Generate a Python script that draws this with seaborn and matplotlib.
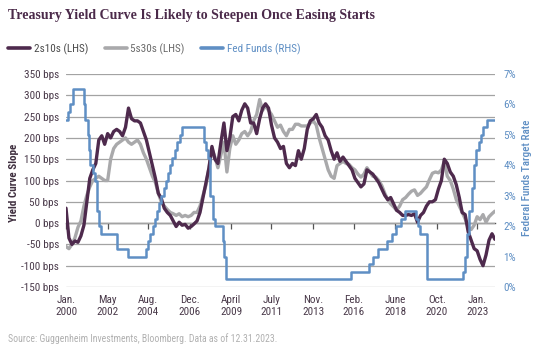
import numpy as np
import pandas as pd
import matplotlib
matplotlib.use("Agg")
import matplotlib.pyplot as plt
import matplotlib.dates as mdates
from matplotlib.lines import Line2D
import seaborn as sns

# ---------------- data ----------------
dates = list(pd.date_range("2000-01-01", "2023-11-01", freq="2MS")) + [pd.Timestamp("2023-12-29")]

s2s10 = [35, -35, -50, -42, -45, -30,
         -5, 50, 105, 125, 140, 195,
         205, 185, 210, 200, 215, 220,
         215, 205, 225, 270, 245, 240,
         240, 235, 215, 195, 165, 135,
         105, 70, 58, 35, 25, 18,
         5, -8, 2, -5, -3, -12,
         -8, -2, 5, 25, 60, 95,
         130, 180, 150, 140, 190, 235,
         170, 200, 250, 255, 240, 265,
         280, 270, 235, 235, 210, 245,
         270, 280, 270, 230, 200, 190,
         175, 180, 140, 130, 140, 135,
         170, 150, 175, 220, 240, 245,
         255, 235, 225, 205, 195, 170,
         150, 165, 145, 155, 145, 135,
         125, 105, 95, 85, 92, 125,
         120, 115, 105, 95, 80, 65,
         55, 60, 45, 30, 25, 18,
         18, 20, 18, 22, 2, 18,
         25, 40, 50, 50, 55, 80,
         100, 150, 140, 120, 110, 90,
         60, 25, 20, -20, -40, -60,
         -65, -85, -100, -75, -40, -25,
         -38]

s5s30 = [-55, -60, -50, -35, -10, 5,
         40, 65, 85, 100, 105, 110,
         105, 100, 100, 150, 175, 185,
         190, 195, 200, 190, 185, 190,
         195, 185, 165, 150, 130, 110,
         95, 70, 50, 40, 32, 25,
         22, 18, 22, 15, 18, 15,
         18, 25, 25, 40, 65, 90,
         130, 175, 155, 130, 160, 190,
         120, 175, 205, 185, 195, 210,
         215, 205, 215, 240, 255, 290,
         265, 275, 265, 255, 240, 225,
         230, 215, 205, 220, 220, 232,
         232, 228, 228, 228, 235, 240,
         230, 200, 175, 150, 125, 110,
         105, 135, 140, 145, 140, 138,
         130, 125, 115, 108, 115, 130,
         120, 110, 108, 100, 88, 70,
         55, 45, 38, 30, 40, 55,
         60, 68, 75, 78, 65, 70,
         78, 85, 102, 117, 120, 118,
         125, 145, 110, 100, 80, 55,
         40, 25, 10, -10, -15, -5,
         15, 8, 20, 2, 15, 22,
         28]

ff_dates = ["2000-01-01", "2000-02-02", "2000-03-21", "2000-05-16",
            "2001-01-03", "2001-01-31", "2001-03-20", "2001-04-18", "2001-05-15",
            "2001-06-27", "2001-08-21", "2001-09-17", "2001-10-02", "2001-11-06",
            "2001-12-11", "2002-11-06", "2003-06-25",
            "2004-06-30", "2004-08-10", "2004-09-21", "2004-11-10", "2004-12-14",
            "2005-02-02", "2005-03-22", "2005-05-03", "2005-06-30", "2005-08-09",
            "2005-09-20", "2005-11-01", "2005-12-13", "2006-01-31", "2006-03-28",
            "2006-05-10", "2006-06-29",
            "2007-09-18", "2007-10-31", "2007-12-11", "2008-01-22", "2008-01-30",
            "2008-03-18", "2008-04-30", "2008-10-08", "2008-10-29", "2008-12-16",
            "2015-12-16", "2016-12-14", "2017-03-15", "2017-06-14", "2017-12-13",
            "2018-03-21", "2018-06-13", "2018-09-26", "2018-12-19",
            "2019-07-31", "2019-09-18", "2019-10-30", "2020-03-03", "2020-03-15",
            "2022-03-16", "2022-05-04", "2022-06-15", "2022-07-27", "2022-09-21",
            "2022-11-02", "2022-12-14", "2023-02-01", "2023-03-22", "2023-05-03",
            "2023-07-26", "2023-12-31"]
ff_rate = [5.5, 5.75, 6.0, 6.5,
           6.0, 5.5, 5.0, 4.5, 4.0,
           3.75, 3.5, 3.0, 2.5, 2.0,
           1.75, 1.25, 1.0,
           1.25, 1.5, 1.75, 2.0, 2.25,
           2.5, 2.75, 3.0, 3.25, 3.5,
           3.75, 4.0, 4.25, 4.5, 4.75,
           5.0, 5.25,
           4.75, 4.5, 4.25, 3.5, 3.0,
           2.25, 2.0, 1.5, 1.0, 0.25,
           0.5, 0.75, 1.0, 1.25, 1.5,
           1.75, 2.0, 2.25, 2.5,
           2.25, 2.0, 1.75, 1.25, 0.25,
           0.5, 1.0, 1.75, 2.5, 3.25,
           4.0, 4.5, 4.75, 5.0, 5.25,
           5.5, 5.5]

tick_dates = ["2000-01-01", "2002-05-01", "2004-08-01", "2006-12-01", "2009-04-01",
              "2011-07-01", "2013-11-01", "2016-02-01", "2018-06-01", "2020-10-01",
              "2023-01-01"]
tick_labels = ["Jan.\n2000", "May\n2002", "Aug.\n2004", "Dec.\n2006", "April\n2009",
               "July\n2011", "Nov.\n2013", "Feb.\n2016", "June\n2018", "Oct.\n2020",
               "Jan.\n2023"]
left_ticks = [-150, -100, -50, 0, 50, 100, 150, 200, 250, 300, 350]
right_ticks = [0, 1, 2, 3, 4, 5, 6, 7]

series_names = ["2s10s (LHS)", "5s30s (LHS)", "Fed Funds (RHS)"]

# ---------------- style ----------------
PURPLE = "#4e2a4d"
GRAY = "#a9a9ab"
BLUE = "#5f8fc4"
TXT = "#4a3a4a"

sns.set_theme(style="white")
plt.rcParams["font.family"] = ["Roboto Condensed", "Liberation Sans", "DejaVu Sans"]

fig = plt.figure(figsize=(5.38, 3.5), dpi=100)
ax = fig.add_axes([66 / 538, 63 / 350, 429 / 538, 213 / 350])

n = len(dates)
df = pd.DataFrame({
    "date": dates * 2,
    "bps": s5s30 + s2s10,
    "series": [series_names[1]] * n + [series_names[0]] * n,
})
sns.lineplot(data=df, x="date", y="bps", hue="series",
             hue_order=[series_names[1], series_names[0]],
             palette={series_names[0]: PURPLE, series_names[1]: GRAY},
             linewidth=2.4, ax=ax, legend=False)

ax.set_ylim(-150, 350)
ax.set_xlim(pd.Timestamp("2000-01-01"), pd.Timestamp("2024-01-01"))
ax.set_yticks(left_ticks)
ax.set_yticklabels([f"{v} bps" for v in left_ticks])
ax.yaxis.grid(True, color="#a3a3a3", lw=0.9)
ax.xaxis.grid(False)
ax.set_xticks(mdates.date2num(pd.to_datetime(tick_dates)))
ax.set_xticklabels(tick_labels, linespacing=1.2)
ax.tick_params(axis="x", length=0, pad=6, labelsize=8, labelcolor=TXT)
ax.tick_params(axis="y", length=0, pad=5, labelsize=8, labelcolor=TXT)
ax.set_xlabel("")
ax.set_ylabel("")
for s in ax.spines.values():
    s.set_visible(False)

# zero line with tick marks
sec = ax.secondary_xaxis(0.3)
sec.set_xticks(mdates.date2num(pd.to_datetime(tick_dates)))
sec.tick_params(length=4, width=0.9, color="#555555", labelbottom=False, labeltop=False)
sec.spines["bottom"].set_color("#555555")
sec.spines["bottom"].set_linewidth(1.0)
sec.spines["top"].set_visible(False)

ax2 = ax.twinx()
sns.lineplot(x=pd.to_datetime(ff_dates), y=ff_rate, drawstyle="steps-post",
             color=BLUE, linewidth=1.8, ax=ax2)
ax2.set_ylim(0, 7)
ax2.set_yticks(right_ticks)
ax2.set_yticklabels([f"{v}%" for v in right_ticks])
ax2.tick_params(axis="y", length=0, pad=6, labelsize=8, labelcolor=BLUE)
ax2.grid(False)
ax2.set_ylabel("")
for s in ax2.spines.values():
    s.set_visible(False)
ax2.set_xlim(pd.Timestamp("2000-01-01"), pd.Timestamp("2024-01-01"))

# axis titles
fig.text(14 / 538, 1 - 183 / 350, "Yield Curve Slope", rotation=90, ha="center", va="center",
         fontsize=8, color="#3d2d3d", fontweight="bold")
fig.text(527 / 538, 1 - 178 / 350, "Federal Funds Target Rate", rotation=90, ha="center",
         va="center", fontsize=8, color=BLUE, fontweight="medium")

# title
fig.text(8 / 538, 1 - 16 / 350, "Treasury Yield Curve Is Likely to Steepen Once Easing Starts",
         ha="left", va="center", fontsize=10, fontweight="bold", color="#4b2a4a",
         family=["Liberation Serif", "DejaVu Serif"])

# legend
handles = [Line2D([], [], color=PURPLE, lw=2.6),
           Line2D([], [], color=GRAY, lw=2.6),
           Line2D([], [], color=BLUE, lw=2.6)]
leg = fig.legend(handles, series_names, loc="center left", bbox_to_anchor=(8 / 538, 1 - 49 / 350),
                 ncol=3, frameon=False, fontsize=8, handlelength=2.0, handletextpad=0.3,
                 columnspacing=1.5, borderaxespad=0, borderpad=0)
for t, c in zip(leg.get_texts(), ["#4a4a4a", "#6a6a6a", BLUE]):
    t.set_color(c)

# source
fig.text(8 / 538, 1 - 339 / 350,
         "Source: Guggenheim Investments, Bloomberg. Data as of 12.31.2023.",
         ha="left", va="center", fontsize=7, color="#b0b0b0")

fig.savefig("out.png", dpi=100)
